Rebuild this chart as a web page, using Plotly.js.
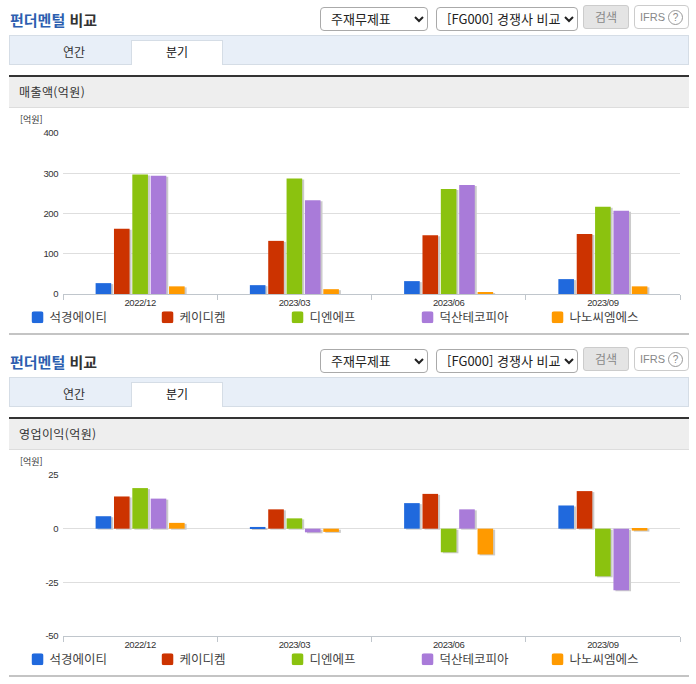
<!DOCTYPE html>
<html lang="ko"><head><meta charset="utf-8">
<script src="https://cdn.plot.ly/plotly-3.0.1.min.js"></script>
<style>
html,body{margin:0;padding:0;background:#fff;width:696px;height:684px;overflow:hidden;font-family:"Noto Sans CJK KR","Liberation Sans",sans-serif;color:#333}
.abs{position:absolute;box-sizing:border-box}
select{font:13px "Noto Sans CJK KR",sans-serif;color:#222;background:#fff;border:1px solid #aaa;border-radius:4px;padding:0 0 0 6px;height:24px}
.chart{position:absolute;left:0;width:696px;height:224px}
.barlayer .point path{filter:drop-shadow(2.5px 1.5px 0 #cbcbcb)}
.legendtext{transform:translateX(-8px)}
.legendpoints path{clip-path:inset(0 round 2.5px)}
.xtick text,.ytick text{letter-spacing:-.45px}
</style></head><body>
<div id="page"></div>
<div id="c1" class="chart" style="top:110.5px"></div>
<div id="c2" class="chart" style="top:452.5px"></div>
<script>
const periods = ["2022/12","2023/03","2023/06","2023/09"];
const companies = ["석경에이티","케이디켐","디엔에프","덕산테코피아","나노씨엠에스"];
const colors = ["#2069dd","#cc3300","#8bc20f","#a97bd9","#ff9a00"];
const revenue1 = [27,22,32,37];
const revenue2 = [162,132,146,149];
const revenue3 = [297,287,261,217];
const revenue4 = [294,233,271,207];
const revenue5 = [19,12,4,19];
const profit1 = [5.8,0.8,11.9,10.8];
const profit2 = [15,9,16.2,17.5];
const profit3 = [18.9,4.8,-11,-22.2];
const profit4 = [14,-1.7,9,-28.7];
const profit5 = [2.7,-1.5,-12,-0.9];
const revenueTicks = [0,100,200,300,400];
const revenueLabels = ["0","100","200","300","400"];
const profitTicks = [-50,-25,0,25];
const profitLabels = ["-50","-25","0","25"];
const sections = ["매출액(억원)","영업이익(억원)"];
const unit = "[억원]";

const page = document.getElementById("page");
function box(css, text){
  const d = document.createElement("div");
  d.className = "abs";
  d.style.cssText = css;
  if (text) d.innerHTML = text;
  page.appendChild(d);
}
[0,342].forEach((o,i)=>{
  box(`left:10px;top:${o+10}px;font-size:15px;font-weight:700;line-height:20px;color:#333`,'<span style="color:#2d5fb0">펀더멘털</span> 비교');
  box(`left:320px;top:${o+5}px`,'<select style="width:108px"><option>주재무제표</option></select>');
  box(`left:436px;top:${o+5}px`,'<select style="width:142px"><option>[FG000] 경쟁사 비교</option></select>');
  box(`left:583px;top:${o+5}px;width:46px;height:24px;background:#e4e4e4;border:1px solid #ccc;border-radius:3px;font-size:12px;line-height:22px;text-align:center;color:#888`,'검색');
  box(`left:634px;top:${o+5}px;width:55px;height:24px;background:#fff;border:1px solid #ccc;border-radius:4px;font:11px/22px "Liberation Sans",sans-serif;text-align:center;color:#888`,'IFRS <span style="display:inline-block;width:13px;height:13px;line-height:13px;border:1px solid #999;border-radius:50%;font-size:10px">?</span>');
  box(`left:9px;top:${o+35}px;width:680px;height:30px;background:#e8eff8;border:1px solid #d5dde6`);
  box(`left:131px;top:${o+40}px;width:92px;height:25px;background:#fff;border:1px solid #d5dde6;border-bottom:0`);
  box(`left:9px;top:${o+43}px;width:130px;text-align:center;font-size:12px;line-height:17px`,'연간');
  box(`left:131px;top:${o+43}px;width:92px;text-align:center;font-size:12px;line-height:17px;color:#111`,'분기');
  box(`left:9px;top:${o+75}px;width:680px;height:33px;background:#eee;border-top:2px solid #333;border-bottom:1px solid #ddd`);
  box(`left:19px;top:${o+83}px;font-size:12px;line-height:17px;letter-spacing:.4px`,sections[i]);
  box(`left:9px;top:${o+333}px;width:680px;height:2px;background:#c4c4c4`);
});

function traces(series){
  return series.map((v,i)=>({type:"bar",name:companies[i],x:periods,y:v,
    marker:{color:colors[i],line:{width:0}},showlegend:true,hoverinfo:"x+y+name"}));
}
const tickFont = {family:'"Liberation Sans",sans-serif',size:9.5,color:"#333"};
function layout(range,vals,labels,top,bottom){
  return {
    width:696,height:224,autosize:false,
    margin:{l:62.5,r:16,t:top,b:bottom,pad:0,autoexpand:false},
    paper_bgcolor:"rgba(0,0,0,0)",plot_bgcolor:"rgba(0,0,0,0)",
    barmode:"group",bargap:0.405,bargroupgap:0.15,
    font:{family:'"Liberation Sans",sans-serif',size:10,color:"#333"},
    xaxis:{type:"category",tickson:"boundaries",ticks:"outside",ticklen:5,tickcolor:"#c0c6cc",
      showgrid:false,showline:true,linecolor:"#c0c6cc",linewidth:1,zeroline:false,
      tickfont:tickFont,fixedrange:true},
    yaxis:{range:range,tickmode:"array",tickvals:vals,ticktext:labels,showgrid:true,gridcolor:"#dedede",gridwidth:1,
      zeroline:true,zerolinecolor:"#dedede",zerolinewidth:1,showline:false,ticks:"",
      tickfont:tickFont,ticklabelstandoff:4,fixedrange:true},
    legend:{orientation:"h",x:(17-62.5)/617.5,xanchor:"left",y:-23.5/161,yanchor:"middle",
      xref:"paper",yref:"paper",
      entrywidth:85,entrywidthmode:"pixels",itemwidth:30,itemclick:false,itemdoubleclick:false,
      font:{family:'"Noto Sans CJK KR",sans-serif',size:12.5,color:"#444"},bgcolor:"rgba(0,0,0,0)",traceorder:"normal"},
    annotations:[{text:unit,xref:"paper",yref:"paper",x:-45.5/617.5,xanchor:"left",
      y:1,yshift:14,yanchor:"middle",showarrow:false,font:{family:'"Noto Sans CJK KR",sans-serif',size:9,color:"#333"}}]
  };
}
const cfg = {displayModeBar:false,responsive:false};
Plotly.newPlot("c1",traces([revenue1,revenue2,revenue3,revenue4,revenue5]),layout([0,400],revenueTicks,revenueLabels,22,41),cfg);
Plotly.newPlot("c2",traces([profit1,profit2,profit3,profit4,profit5]),layout([-50,25],profitTicks,profitLabels,22,41),cfg);
</script></body></html>
